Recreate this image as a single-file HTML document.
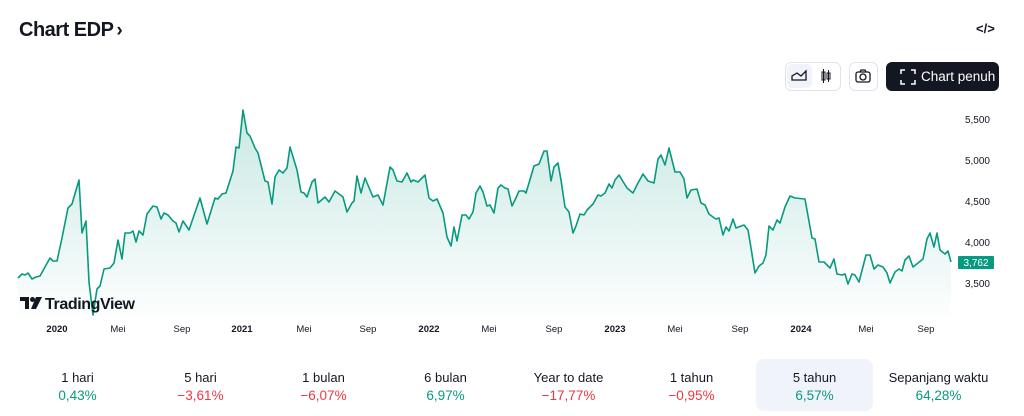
<!DOCTYPE html>
<html><head><meta charset="utf-8"><style>
body{margin:0;width:1024px;height:416px;background:#fff;font-family:"Liberation Sans",sans-serif;position:relative;overflow:hidden;color:#131722}
.a{position:absolute}
.st{position:absolute;top:359px;width:117px;height:52px;text-align:center;border-radius:8px}
.st .l{font-size:13px;color:#131722;margin-top:11px}
.st .v{font-size:13.5px;margin-top:3px}
.g{color:#089981}.r{color:#f23645}
</style></head><body>
<div class="a" style="left:19px;top:19px;font-size:20px;font-weight:600;letter-spacing:-0.5px">Chart EDP<span style="font-size:19px;margin-left:3px">›</span></div>
<div class="a" style="left:976px;top:21px;font-size:13px;font-weight:bold">&lt;/&gt;</div>
<div class="a" style="left:785px;top:62px;width:54px;height:27px;border:1px solid #e0e3eb;border-radius:6px"></div>
<div class="a" style="left:787px;top:64px;width:25px;height:24px;background:#f0f3fa;border-radius:5px"></div>
<svg class="a" style="left:790px;top:68px" width="44" height="16"><path d="M2 12 L2 8 L7 5 L11 8 L16 3 L16 12 Z" fill="none" stroke="#131722" stroke-width="1.3"/><rect x="32" y="4" width="3" height="8" fill="none" stroke="#131722"/><line x1="33.5" y1="1" x2="33.5" y2="15" stroke="#131722"/><rect x="37" y="5" width="3" height="6" fill="none" stroke="#131722"/><line x1="38.5" y1="2" x2="38.5" y2="14" stroke="#131722"/></svg>
<div class="a" style="left:849px;top:62px;width:27px;height:27px;border:1px solid #e0e3eb;border-radius:6px"></div>
<svg class="a" style="left:854px;top:68px" width="18" height="16"><rect x="2" y="4" width="14" height="10" rx="2" fill="none" stroke="#131722" stroke-width="1.3"/><circle cx="9" cy="9" r="3" fill="none" stroke="#131722" stroke-width="1.3"/><path d="M6 4 L7 2 L11 2 L12 4" fill="none" stroke="#131722" stroke-width="1.3"/></svg>
<div class="a" style="left:886px;top:62px;width:113px;height:29px;background:#131722;border-radius:6px;color:#fff;font-size:13.5px;line-height:29px"><svg style="position:absolute;left:14px;top:7px" width="16" height="16" fill="none" stroke="#fff" stroke-width="1.5"><path d="M1 5V1H5M11 1H15V5M15 11V15H11M5 15H1V11"/></svg><span style="position:absolute;left:35px">Chart penuh</span></div>
<svg class="a" style="left:0;top:0" width="1024" height="345">
<defs><linearGradient id="gr" x1="0" y1="0" x2="0" y2="1"><stop offset="0" stop-color="#089981" stop-opacity="0.22"/><stop offset="1" stop-color="#089981" stop-opacity="0.01"/></linearGradient></defs>
<path id="p" d="M18 278L22 274L25 275L28 273L32 279L36 277L40 276L50 258L53 261L57 261L62 238L68 208L72 204L79 180L82 233L86 221L89 282L93 315L97 289L100 286L104 269L110 268L114 263L118 240L122 259L125 233L130 233L133 231L136 242L139 231L143 235L147 214L153 206L157 207L161 219L164 213L168 215L173 221L176 223L179 232L183 221L189 230L200 198L207 224L215 198L218 199L222 194L226 193L233 171L236 147L239 148L243 110L247 133L250 136L255 148L258 153L265 181L268 182L272 204L275 177L279 170L283 173L287 168L290 147L297 170L301 192L304 193L307 197L312 182L315 179L318 203L325 197L329 202L335 191L343 197L347 212L352 203L354 201L357 176L361 193L365 178L373 197L378 195L383 205L390 167L393 170L397 181L402 182L407 173L411 182L413 180L418 182L425 175L429 198L433 201L437 199L443 213L447 237L451 246L454 227L457 241L462 215L466 215L469 219L473 212L476 193L480 186L483 192L487 206L490 205L494 213L498 188L501 185L505 188L508 189L512 206L515 200L519 191L524 191L526 193L529 183L534 166L539 164L544 151L547 151L551 181L554 167L558 163L561 180L565 207L569 212L573 233L576 226L580 214L584 215L587 210L593 204L598 195L601 196L605 193L609 184L612 188L615 180L619 175L627 188L633 193L638 183L643 174L648 181L654 183L658 159L661 155L665 165L669 148L675 172L680 172L684 179L687 198L691 190L697 189L701 203L705 205L709 214L713 217L716 219L719 218L723 235L726 227L729 231L733 219L736 228L744 225L748 230L751 248L755 273L759 266L763 263L766 255L769 226L773 230L777 220L780 223L785 207L790 196L795 198L805 199L812 238L815 239L819 262L824 262L830 268L834 259L837 274L842 275L845 274L848 284L852 274L855 275L859 282L866 255L870 255L874 269L878 265L883 267L887 273L890 283L895 272L899 269L902 271L905 260L909 256L913 267L918 263L923 259L927 239L930 233L934 247L937 233L940 250L945 254L948 251L951 262" fill="none" stroke="#089981" stroke-width="1.6" stroke-linejoin="round"/>
<path d="M18 278L22 274L25 275L28 273L32 279L36 277L40 276L50 258L53 261L57 261L62 238L68 208L72 204L79 180L82 233L86 221L89 282L93 315L97 289L100 286L104 269L110 268L114 263L118 240L122 259L125 233L130 233L133 231L136 242L139 231L143 235L147 214L153 206L157 207L161 219L164 213L168 215L173 221L176 223L179 232L183 221L189 230L200 198L207 224L215 198L218 199L222 194L226 193L233 171L236 147L239 148L243 110L247 133L250 136L255 148L258 153L265 181L268 182L272 204L275 177L279 170L283 173L287 168L290 147L297 170L301 192L304 193L307 197L312 182L315 179L318 203L325 197L329 202L335 191L343 197L347 212L352 203L354 201L357 176L361 193L365 178L373 197L378 195L383 205L390 167L393 170L397 181L402 182L407 173L411 182L413 180L418 182L425 175L429 198L433 201L437 199L443 213L447 237L451 246L454 227L457 241L462 215L466 215L469 219L473 212L476 193L480 186L483 192L487 206L490 205L494 213L498 188L501 185L505 188L508 189L512 206L515 200L519 191L524 191L526 193L529 183L534 166L539 164L544 151L547 151L551 181L554 167L558 163L561 180L565 207L569 212L573 233L576 226L580 214L584 215L587 210L593 204L598 195L601 196L605 193L609 184L612 188L615 180L619 175L627 188L633 193L638 183L643 174L648 181L654 183L658 159L661 155L665 165L669 148L675 172L680 172L684 179L687 198L691 190L697 189L701 203L705 205L709 214L713 217L716 219L719 218L723 235L726 227L729 231L733 219L736 228L744 225L748 230L751 248L755 273L759 266L763 263L766 255L769 226L773 230L777 220L780 223L785 207L790 196L795 198L805 199L812 238L815 239L819 262L824 262L830 268L834 259L837 274L842 275L845 274L848 284L852 274L855 275L859 282L866 255L870 255L874 269L878 265L883 267L887 273L890 283L895 272L899 269L902 271L905 260L909 256L913 267L918 263L923 259L927 239L930 233L934 247L937 233L940 250L945 254L948 251L951 262L951 316L18 316Z" fill="url(#gr)"/>
<g font-size="9.5" fill="#131722" text-anchor="middle"><text x="57" y="332" font-weight="bold">2020</text><text x="118" y="332">Mei</text><text x="182" y="332">Sep</text><text x="242" y="332" font-weight="bold">2021</text><text x="304" y="332">Mei</text><text x="368" y="332">Sep</text><text x="429" y="332" font-weight="bold">2022</text><text x="489" y="332">Mei</text><text x="554" y="332">Sep</text><text x="615" y="332" font-weight="bold">2023</text><text x="675" y="332">Mei</text><text x="740" y="332">Sep</text><text x="801" y="332" font-weight="bold">2024</text><text x="866" y="332">Mei</text><text x="926" y="332">Sep</text></g>
<g font-size="10" fill="#131722" text-anchor="end"><text x="990" y="123">5,500</text><text x="990" y="164">5,000</text><text x="990" y="205">4,500</text><text x="990" y="246">4,000</text><text x="990" y="287">3,500</text></g>
<rect x="958" y="256" width="36" height="13" fill="#089981" rx="1"/><text x="976" y="266" font-size="10" fill="#fff" text-anchor="middle">3,762</text>
<g fill="#131722"><path d="M20 297H29V309H25V301H20Z"/><circle cx="32.5" cy="299.5" r="2.5"/><path d="M36 297H42L36 309H31Z"/></g>
<text x="45" y="309" font-size="16" font-weight="bold" fill="#131722" letter-spacing="-0.4">TradingView</text>
</svg>
<div class="st" style="left:19px"><div class="l">1 hari</div><div class="v g">0,43%</div></div>
<div class="st" style="left:142px"><div class="l">5 hari</div><div class="v r">−3,61%</div></div>
<div class="st" style="left:265px"><div class="l">1 bulan</div><div class="v r">−6,07%</div></div>
<div class="st" style="left:387px"><div class="l">6 bulan</div><div class="v g">6,97%</div></div>
<div class="st" style="left:510px"><div class="l">Year to date</div><div class="v r">−17,77%</div></div>
<div class="st" style="left:633px"><div class="l">1 tahun</div><div class="v r">−0,95%</div></div>
<div class="st" style="left:756px;background:#f0f3fa"><div class="l">5 tahun</div><div class="v g">6,57%</div></div>
<div class="st" style="left:880px"><div class="l">Sepanjang waktu</div><div class="v g">64,28%</div></div>
</body></html>
